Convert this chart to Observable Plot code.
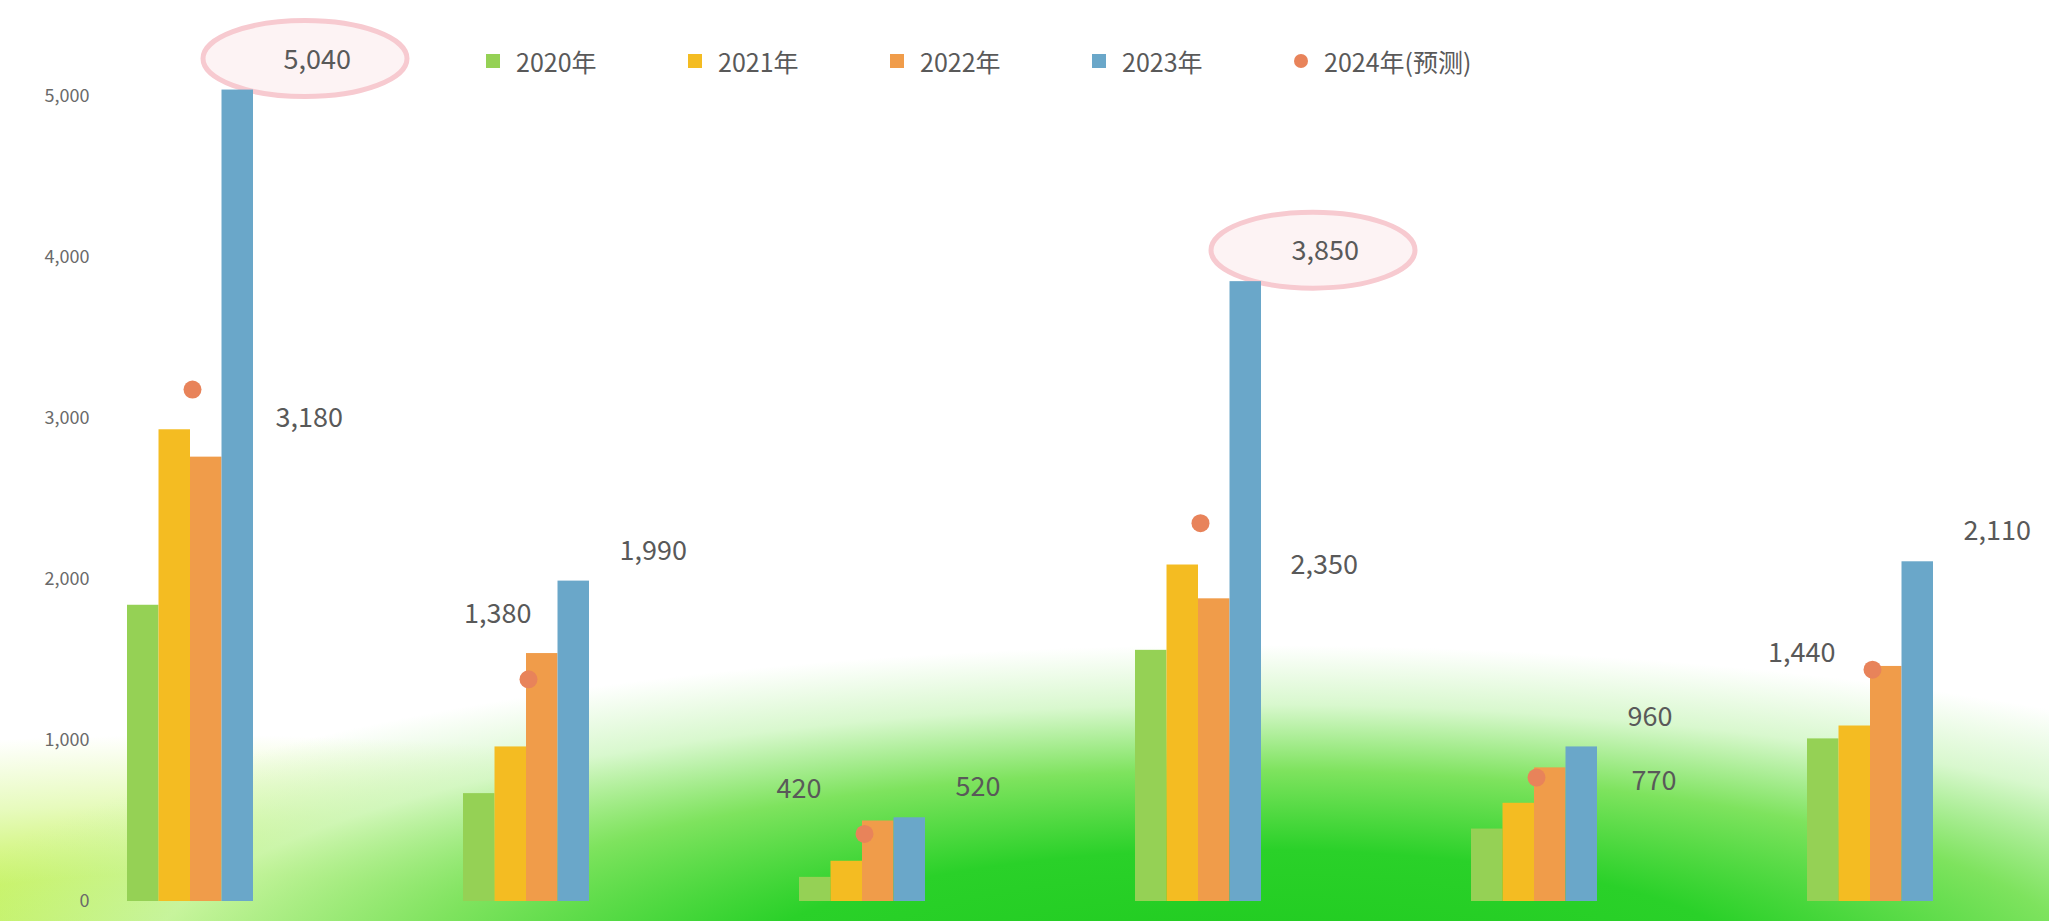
<!DOCTYPE html>
<html><head><meta charset="utf-8">
<script src="https://cdn.jsdelivr.net/npm/d3@7"></script>
<script src="https://cdn.jsdelivr.net/npm/@observablehq/plot@0.6"></script>
<style>
html,body{margin:0;padding:0;background:#fff;}
#wrap{position:relative;width:2049px;height:921px;overflow:hidden;font-family:"Noto Sans CJK SC","Noto Sans",sans-serif;
background:
 radial-gradient(ellipse 1350px 330px at 1250px 975px, #1ecb1e 0%, #2ad129 38%, #7ee35e 62%, rgba(200,245,185,0.7) 82%, rgba(255,255,255,0) 100%),
 radial-gradient(ellipse 1000px 230px at 200px 965px, #bff04a 0%, #c9f362 40%, rgba(220,249,160,0.7) 70%, rgba(255,255,255,0) 100%),
 #ffffff;}
#chart{position:absolute;left:0;top:0;}
#legend{position:absolute;top:45px;left:486px;display:flex;}
.item{display:flex;align-items:center;width:202px;font-size:25px;color:#595959;line-height:32px;}
.sw{width:14px;height:14px;margin-right:16px;}
.swd{width:14px;height:14px;margin-right:16px;border-radius:50%;}
</style></head>
<body><div id="wrap"><div id="chart"></div><div id="legend"></div></div>
<script>
// ---- data ----
const categories = ["类别一","类别二","类别三","类别四","类别五","类别六"];
const seriesNames = ["2020年","2021年","2022年","2023年"];
const v2020 = [1840, 670, 150, 1560, 450, 1010];
const v2021 = [2930, 960, 250, 2090, 610, 1090];
const v2022 = [2760, 1540, 500, 1880, 830, 1460];
const v2023 = [5040, 1990, 520, 3850, 960, 2110];
const pointName = "2024年(预测)";
const vPoint = [3180, 1380, 420, 2350, 770, 1440];
const yTicks = [0, 1000, 2000, 3000, 4000, 5000];
const highlighted = ["类别一", "类别四"];

// ---- styles / layout ----
const colors = ["#95d155", "#f4bc22", "#f09c4a", "#6aa7c9"];
const pointColor = "#e8835a";
const W = 2049, H = 921, mL = 100, mR = 88.5, mT = 96, mB = 20;
const pIn = 0.6253, pOut = 0.0788;
const bandW = (W - mL - mR) / (categories.length - pIn + 2 * pOut) * (1 - pIn);
const bw = bandW / 4;
const pointLabelPlace = [
  {dx: 85, dy: 29, a: "start"}, {dx: 5, dy: -65, a: "end"}, {dx: -41, dy: -45, a: "end"},
  {dx: 92, dy: 42, a: "start"}, {dx: 97, dy: 4, a: "start"}, {dx: -35, dy: -16, a: "end"}
];
const fmt = d3.format(",");
const seriesVals = [v2020, v2021, v2022, v2023];
const rows = seriesVals.map(arr => categories.map((c, j) => ({cat: c, v: arr[j]})));
const pts = categories.map((c, j) => ({cat: c, v: vPoint[j]}));

const marks = [];
seriesVals.forEach((arr, i) => {
  marks.push(Plot.barY(rows[i], {x: "cat", y: "v", fill: colors[i], insetLeft: i * bw, insetRight: (3 - i) * bw}));
});
marks.push(Plot.dot(pts, {x: "cat", y: "v", r: 9, fill: pointColor, dx: 2}));
marks.push(Plot.text(rows[3], {x: "cat", y: "v", text: d => fmt(d.v), dx: 93, dy: -30, textAnchor: "start", fontSize: 27, fill: "#595959"}));
categories.forEach((c, j) => {
  const p = pointLabelPlace[j];
  marks.push(Plot.text([pts[j]], {x: "cat", y: "v", text: d => fmt(d.v), dx: p.dx, dy: p.dy, textAnchor: p.a, fontSize: 27, fill: "#595959"}));
});

const chart = Plot.plot({
  width: W, height: H,
  marginLeft: mL, marginRight: mR, marginTop: mT, marginBottom: mB,
  style: {background: "transparent", fontSize: "18px", color: "#6a6a6a", fontFamily: "'Noto Sans CJK SC','Noto Sans',sans-serif"},
  x: {type: "band", domain: categories, paddingInner: pIn, paddingOuter: pOut, axis: null},
  y: {domain: [0, 5000], ticks: yTicks, tickFormat: fmt, tickSize: 0, tickPadding: 11, label: null},
  marks
});
document.getElementById("chart").appendChild(chart);

// highlight ellipses around selected labels, placed through the chart's scales
const sx = chart.scale("x"), sy = chart.scale("y");
const svg = d3.select(chart);
highlighted.forEach(c => {
  const j = categories.indexOf(c);
  const cx = sx.apply(c) + sx.bandwidth / 2 + 115;
  const cy = sy.apply(v2023[j]) - 31;
  svg.insert("ellipse", ":first-child").attr("cx", cx).attr("cy", cy).attr("rx", 102).attr("ry", 38)
    .attr("fill", "#fdf3f4").attr("stroke", "#f7cad0").attr("stroke-width", 5);
});

// legend
const lg = document.getElementById("legend");
seriesNames.forEach((n, i) => {
  lg.insertAdjacentHTML("beforeend", `<div class="item"><span class="sw" style="background:${colors[i]}"></span>${n}</div>`);
});
lg.insertAdjacentHTML("beforeend", `<div class="item" style="width:auto"><span class="swd" style="background:${pointColor}"></span>${pointName}</div>`);
</script>
</body></html>
